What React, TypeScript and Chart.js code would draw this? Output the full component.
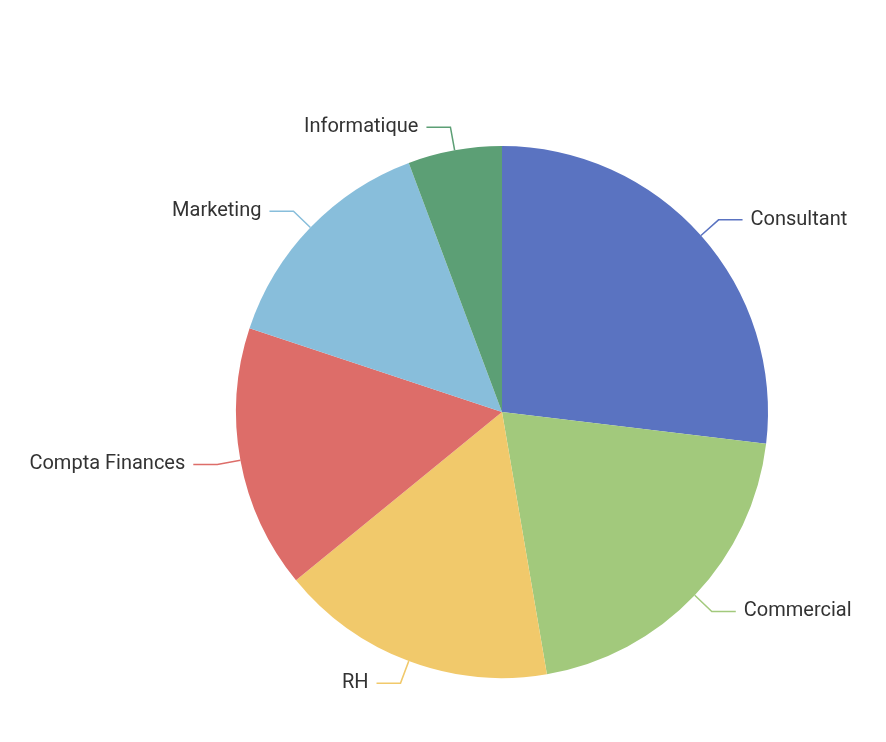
import React, { useEffect, useRef } from 'react';
import Chart from 'chart.js/auto';

const departments = ['Consultant', 'Commercial', 'RH', 'Compta Finances', 'Marketing', 'Informatique'];
const shares = [26.9, 20.4, 16.8, 16.0, 14.2, 5.7];
const sliceColors = ['#5a73c1', '#a2c97c', '#f1c96b', '#dd6d69', '#88bedb', '#5c9f75'];

// draws outside labels with two-segment leader lines
const outsideLabels = {
    id: 'outsideLabels',
    afterDraw(chart: any) {
        const ctx = chart.ctx;
        const meta = chart.getDatasetMeta(0);
        ctx.save();
        ctx.font = '20px Roboto';
        ctx.textBaseline = 'middle';
        meta.data.forEach((arc: any, i: number) => {
            const { x, y, startAngle, endAngle, outerRadius } = arc.getProps(['x', 'y', 'startAngle', 'endAngle', 'outerRadius'], true);
            const mid = (startAngle + endAngle) / 2;
            const cos = Math.cos(mid);
            const sin = Math.sin(mid);
            const x0 = x + cos * outerRadius;
            const y0 = y + sin * outerRadius;
            const x1 = x + cos * (outerRadius + 23.5);
            const y1 = y + sin * (outerRadius + 23.5);
            const right = cos >= 0;
            const x2 = x1 + (right ? 24 : -24);

            ctx.strokeStyle = sliceColors[i];
            ctx.lineWidth = 1.5;
            ctx.beginPath();
            ctx.moveTo(x0, y0);
            ctx.lineTo(x1, y1);
            ctx.lineTo(x2, y1);
            ctx.stroke();

            ctx.fillStyle = '#333333';
            ctx.textAlign = right ? 'left' : 'right';
            ctx.fillText(departments[i], x2 + (right ? 8 : -8), y1);
        });
        ctx.restore();
    }
};

const DepartmentPie: React.FC = () => {
    const canvasRef = useRef<HTMLCanvasElement>(null);
    const chartRef = useRef<Chart>();

    useEffect(() => {
        const ctx = canvasRef.current?.getContext('2d');
        if (!ctx) return;
        if (chartRef.current) chartRef.current.destroy();

        chartRef.current = new Chart(ctx, {
            type: 'pie',
            data: {
                labels: departments,
                datasets: [{
                    data: shares,
                    backgroundColor: sliceColors,
                    borderWidth: 0
                }]
            },
            options: {
                animation: false,
                responsive: true,
                maintainAspectRatio: false,
                layout: {
                    padding: { left: 236, right: 118, top: 146, bottom: 64 }
                },
                plugins: {
                    legend: { display: false },
                    tooltip: { enabled: false }
                }
            },
            plugins: [outsideLabels]
        });

        return () => {
            if (chartRef.current) chartRef.current.destroy();
        };
    }, []);

    return (
        <div style={{ position: 'fixed', left: 0, top: 0, width: 886, height: 742, background: '#ffffff' }}>
            <canvas ref={canvasRef}></canvas>
        </div>
    );
};

export default function App() {
    return <DepartmentPie />;
}
